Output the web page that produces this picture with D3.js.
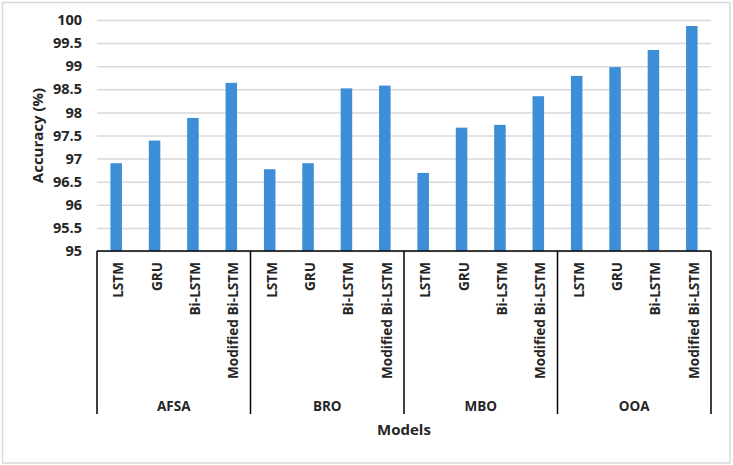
<!DOCTYPE html>
<html>
<head>
<meta charset="utf-8">
<script src="https://cdn.jsdelivr.net/npm/d3@7"></script>
<style>
  body { margin: 0; background: #fff; }
  text { font-family: "Open Sans", sans-serif; font-weight: 700; fill: #262626; }
</style>
</head>
<body>
<div id="chart"></div>
<script>
const groups = ["AFSA", "BRO", "MBO", "OOA"];
const models = ["LSTM", "GRU", "Bi-LSTM", "Modified Bi-LSTM"];
// accuracy per group, in models order
const afsa = [96.9, 97.39, 97.88, 98.64];
const bro = [96.77, 96.9, 98.52, 98.58];
const mbo = [96.69, 97.67, 97.73, 98.35];
const ooa = [98.79, 98.98, 99.35, 99.87];
const yTicks = [95, 95.5, 96, 96.5, 97, 97.5, 98, 98.5, 99, 99.5, 100];

const width = 733, height = 465;
const marginLeft = 97, marginRight = 22, marginTop = 20, marginBottom = 214;

const data = [afsa, bro, mbo, ooa].flatMap((vals, g) =>
  vals.map((v, m) => ({ group: groups[g], model: models[m], key: groups[g] + "|" + models[m], value: v }))
);

const x = d3.scaleBand()
  .domain(data.map(d => d.key))
  .range([marginLeft, width - marginRight])
  .paddingInner(0.7)
  .paddingOuter(0.35);
const xGroup = d3.scaleBand()
  .domain(groups)
  .range([marginLeft, width - marginRight]);
const y = d3.scaleLinear()
  .domain([95, 100])
  .range([height - marginBottom, marginTop]);

const svg = d3.select("#chart").append("svg")
  .attr("width", width)
  .attr("height", height)
  .attr("viewBox", [0, 0, width, height]);

// outer frame
svg.append("rect")
  .attr("x", 2.5).attr("y", 2.5)
  .attr("width", width - 5.5).attr("height", height - 4.5)
  .attr("fill", "none").attr("stroke", "#d9d9d9").attr("stroke-width", 1.5);

// y axis with gridlines
svg.append("g")
  .attr("transform", `translate(${marginLeft},0)`)
  .call(d3.axisLeft(y).tickValues(yTicks).tickSize(0).tickPadding(15).tickFormat(d3.format("")))
  .call(g => g.select(".domain").remove())
  .call(g => g.selectAll(".tick text").attr("font-size", 14.5).attr("font-family", null).attr("fill", "#262626"))
  .call(g => g.selectAll(".tick line").clone()
    .attr("x2", width - marginLeft - marginRight)
    .attr("stroke", "#d9d9d9")
    .attr("stroke-width", 1.5));

// bars
svg.append("g")
  .selectAll("rect")
  .data(data)
  .join("rect")
  .attr("x", d => x(d.key))
  .attr("y", d => y(d.value))
  .attr("width", x.bandwidth())
  .attr("height", d => y(95) - y(d.value))
  .attr("fill", "#3d8ed7");

// bottom axis line and group separators
const base = y(95);
svg.append("line")
  .attr("x1", marginLeft).attr("x2", width - marginRight)
  .attr("y1", base).attr("y2", base)
  .attr("stroke", "#000").attr("stroke-width", 1.5);

const seps = groups.map(g => xGroup(g)).concat([width - marginRight]);
svg.append("g")
  .selectAll("line")
  .data(seps)
  .join("line")
  .attr("x1", d => d).attr("x2", d => d)
  .attr("y1", base).attr("y2", base + 163)
  .attr("stroke", "#000").attr("stroke-width", 1.5);

// model labels (rotated)
svg.append("g")
  .selectAll("text")
  .data(data)
  .join("text")
  .attr("transform", d => `translate(${x(d.key) + x.bandwidth() / 2 + 7},${base + 11}) rotate(-90)`)
  .attr("text-anchor", "end")
  .attr("font-size", 13.6)
  .text(d => d.model);

// group labels
svg.append("g")
  .selectAll("text")
  .data(groups)
  .join("text")
  .attr("x", d => xGroup(d) + xGroup.bandwidth() / 2)
  .attr("y", base + 160)
  .attr("text-anchor", "middle")
  .attr("font-size", 13.5)
  .text(d => d);

// axis titles
svg.append("text")
  .attr("x", (marginLeft + width - marginRight) / 2)
  .attr("y", 435)
  .attr("text-anchor", "middle")
  .attr("font-size", 15)
  .text("Models");

svg.append("text")
  .attr("transform", `translate(43,${(marginTop + base) / 2}) rotate(-90)`)
  .attr("text-anchor", "middle")
  .attr("font-size", 15)
  .text("Accuracy (%)");
</script>
</body>
</html>
